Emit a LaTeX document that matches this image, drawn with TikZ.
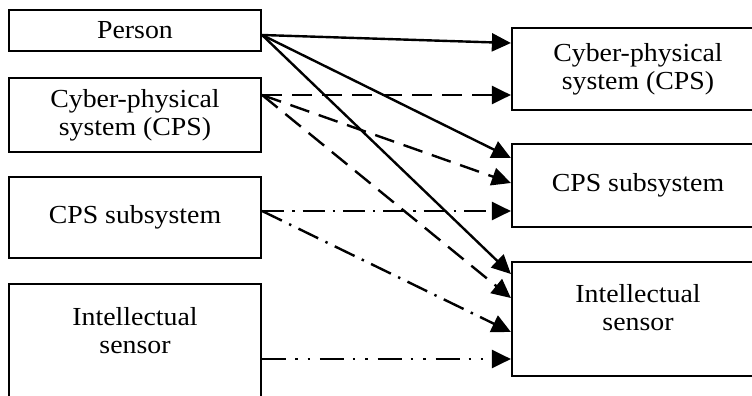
\documentclass[tikz,border=0pt]{standalone}
\usepackage{fontspec}
\setmainfont{Liberation Serif}[FakeStretch=1.07]
\usetikzlibrary{arrows.meta}
\begin{document}
\begin{tikzpicture}[x=1pt,y=-1pt,
 box/.style={draw, line width=2.2pt, minimum width=252pt, inner sep=0pt, align=center, font=\fontsize{26}{28}\selectfont},
 lbl/.style={align=center, font=\fontsize{26}{28}\selectfont, inner sep=0pt},
 conn/.style={line width=2.4pt, -{Triangle[length=19pt,width=18pt]}},
 dsh/.style={dash pattern=on 20pt off 10pt},
 dshdot/.style={dash pattern=on 22pt off 8pt on 2.4pt off 8pt},
 dshdotdot/.style={dash pattern=on 24pt off 9pt on 2.4pt off 10pt on 2.4pt off 10pt}]
\useasboundingbox (0,0) rectangle (752,396);
\clip (0,0) rectangle (752,396);
% left column
\node[box, minimum height=41pt] (person) at (135,30.5) {Person};
\node[box, minimum height=74pt] (lcps) at (135,115) {Cyber-physical\\system (CPS)};
\node[box, minimum height=81pt] (lsub) at (135,217.5) {CPS subsystem};
\node[box, minimum height=116pt] (lsen) at (135,342) {};
\node[lbl] (lsenT) at (135,331) {Intellectual\\sensor};
% right column
\node[box, minimum height=82pt] (rcps) at (638,69) {Cyber-physical\\system (CPS)};
\node[box, minimum height=83pt] (rsub) at (638,185.5) {CPS subsystem};
\node[box, minimum height=114pt] (rsen) at (638,319) {};
\node[lbl] (rsenT) at (638,308) {Intellectual\\sensor};
% connectors
\draw[conn] ([yshift=-4.5pt]person.east) -- ([yshift=26pt]rcps.west);
\draw[conn] ([yshift=-4.5pt]person.east) -- ([yshift=27.5pt]rsub.west);
\draw[conn] ([yshift=-4.5pt]person.east) -- ([yshift=45pt]rsen.west);
\draw[conn,dsh] ([yshift=20pt]lcps.east) -- ([yshift=-26pt]rcps.west);
\draw[conn,dsh] ([yshift=20pt]lcps.east) -- ([yshift=2.5pt]rsub.west);
\draw[conn,dsh] ([yshift=20pt]lcps.east) -- ([yshift=21pt]rsen.west);
\draw[conn,dshdot] ([yshift=6.5pt]lsub.east) -- ([yshift=-25.5pt]rsub.west);
\draw[conn,dshdot] ([yshift=6.5pt]lsub.east) -- ([yshift=-13pt]rsen.west);
\draw[conn,dshdotdot] ([yshift=-17pt]lsen.east) -- ([yshift=-40pt]rsen.west);
\end{tikzpicture}
\end{document}
